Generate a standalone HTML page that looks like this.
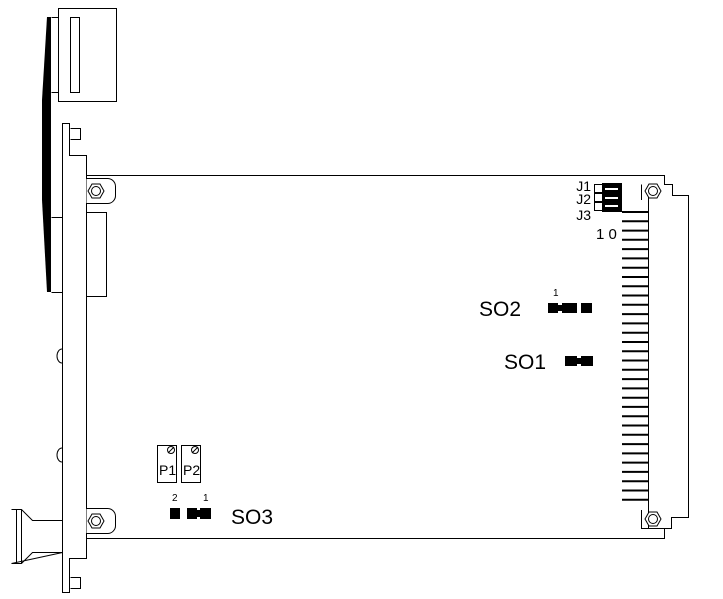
<!DOCTYPE html>
<html><head><style>
html,body{margin:0;padding:0;background:#fff;}
svg{display:block;}
text{font-family:"Liberation Sans",sans-serif;fill:#000;}
</style></head><body>
<svg width="723" height="599" viewBox="0 0 723 599" xmlns="http://www.w3.org/2000/svg">
<defs>
<g id="nut">
<polygon points="-8,0 -4,-7 4,-7 8,0 4,7 -4,7" fill="#fff" stroke="#000" stroke-width="1"/>
<circle r="4.5" fill="none" stroke="#000" stroke-width="1"/>
</g>
</defs>
<g fill="none" stroke="#000" stroke-width="1">
<rect x="58.5" y="8.5" width="58" height="93"/>
<rect x="70.5" y="17.5" width="9" height="75"/>
<path d="M51.5,17.5 H58 M51.5,92.5 H58 M51.5,217.5 H62 M51.5,292.5 H62"/>
</g>
<path d="M51,17 L51,292 L47,292 L42,200 L42,100 L47,17 Z" fill="#000"/>
<path d="M62.5,123.5 H69.5 V155.5 H86.5 V558.5 H69.5 V592.5 H62.5 Z" fill="#fff" stroke="#000"/>
<path d="M70.5,128.5 H80.5 V139.5 H70.5 M70.5,577.5 H80.5 V588.5 H70.5" fill="none" stroke="#000"/>
<path d="M62,349 A5,7 0 0 0 62,363 M62,448 A5,7 0 0 0 62,462" fill="none" stroke="#000"/>
<path d="M86.5,212.5 H106.5 V296.5 H86.5" fill="none" stroke="#000"/>
<path d="M86.5,175.5 H664.5 V184.5 H672.5 V195.5 H688.5 V517.5 H671.5 V528.5 H664.5 V538.5 H86.5" fill="none" stroke="#000"/>
<line x1="648.5" y1="190" x2="648.5" y2="528" stroke="#000"/>
<path d="M641.5,184.5 V200 M641.5,510 V528.5 H664" fill="none" stroke="#000"/>
<g stroke="#000" stroke-width="2">
<line x1="622" y1="212" x2="648" y2="212"/><line x1="622" y1="221.3" x2="648" y2="221.3"/><line x1="622" y1="230.6" x2="648" y2="230.6"/><line x1="622" y1="239.8" x2="648" y2="239.8"/><line x1="622" y1="249.1" x2="648" y2="249.1"/><line x1="622" y1="258.4" x2="648" y2="258.4"/><line x1="622" y1="267.7" x2="648" y2="267.7"/><line x1="622" y1="277" x2="648" y2="277"/><line x1="622" y1="286.3" x2="648" y2="286.3"/><line x1="622" y1="295.5" x2="648" y2="295.5"/><line x1="622" y1="304.8" x2="648" y2="304.8"/><line x1="622" y1="314.1" x2="648" y2="314.1"/><line x1="622" y1="323.4" x2="648" y2="323.4"/><line x1="622" y1="332.7" x2="648" y2="332.7"/><line x1="622" y1="342" x2="648" y2="342"/><line x1="622" y1="351.2" x2="648" y2="351.2"/><line x1="622" y1="360.5" x2="648" y2="360.5"/><line x1="622" y1="369.8" x2="648" y2="369.8"/><line x1="622" y1="379.1" x2="648" y2="379.1"/><line x1="622" y1="388.4" x2="648" y2="388.4"/><line x1="622" y1="397.7" x2="648" y2="397.7"/><line x1="622" y1="406.9" x2="648" y2="406.9"/><line x1="622" y1="416.2" x2="648" y2="416.2"/><line x1="622" y1="425.5" x2="648" y2="425.5"/><line x1="622" y1="434.8" x2="648" y2="434.8"/><line x1="622" y1="444.1" x2="648" y2="444.1"/><line x1="622" y1="453.4" x2="648" y2="453.4"/><line x1="622" y1="462.6" x2="648" y2="462.6"/><line x1="622" y1="471.9" x2="648" y2="471.9"/><line x1="622" y1="481.2" x2="648" y2="481.2"/><line x1="622" y1="490.5" x2="648" y2="490.5"/><line x1="622" y1="499.8" x2="648" y2="499.8"/>
</g>
<path d="M86.5,178.5 H107 A8,8 0 0 1 115.5,186.5 V195 A8,8 0 0 1 107,203.5 H86.5" fill="#fff" stroke="#000"/>
<path d="M86.5,508.5 H107 A8,8 0 0 1 115.5,516.5 V525 A8,8 0 0 1 107,533.5 H86.5" fill="#fff" stroke="#000"/>
<use href="#nut" x="96" y="191"/>
<use href="#nut" x="96" y="521"/>
<use href="#nut" x="653" y="191"/>
<use href="#nut" x="653" y="519"/>
<path d="M11.5,509.5 H21.5 L32.5,520.5 H62.5 M62.5,552.5 H32.5 L21.5,563.5 H11.5 Z M16.5,510 V563 M21.5,509.5 V563.5" fill="none" stroke="#000"/>
<rect x="157.5" y="445.5" width="19" height="37" fill="none" stroke="#000"/>
<rect x="181.5" y="445.5" width="19" height="37" fill="none" stroke="#000"/>
<circle cx="171" cy="450" r="3.5" fill="none" stroke="#000"/><line x1="168" y1="453" x2="174" y2="447" stroke="#000"/>
<circle cx="195" cy="450" r="3.5" fill="none" stroke="#000"/><line x1="192" y1="453" x2="198" y2="447" stroke="#000"/>
<text x="159" y="475" font-size="14">P1</text>
<text x="183" y="475" font-size="14">P2</text>
<rect x="170" y="508" width="10" height="11" fill="#000"/>
<rect x="187" y="508" width="24" height="11" fill="#000"/>
<rect x="197" y="508" width="3" height="2" fill="#fff"/><rect x="197" y="517" width="3" height="2" fill="#fff"/>
<text x="172" y="501" font-size="10">2</text>
<text x="203" y="501" font-size="10">1</text>
<text x="231" y="524" font-size="21">SO3</text>
<rect x="548" y="303" width="29" height="10" fill="#000"/>
<rect x="558" y="303" width="4" height="2" fill="#fff"/><rect x="558" y="311" width="4" height="2" fill="#fff"/>
<rect x="581" y="303" width="11" height="10" fill="#000"/>
<text x="553" y="296" font-size="10">1</text>
<text x="479" y="316" font-size="21">SO2</text>
<rect x="565" y="356" width="28" height="10" fill="#000"/>
<rect x="577" y="356" width="4" height="2" fill="#fff"/><rect x="577" y="364" width="4" height="2" fill="#fff"/>
<text x="504" y="369" font-size="21">SO1</text>
<rect x="594.5" y="184.5" width="8" height="8" fill="none" stroke="#000"/>
<rect x="594.5" y="193.5" width="8" height="8" fill="none" stroke="#000"/>
<rect x="594.5" y="202.5" width="8" height="8" fill="none" stroke="#000"/>
<rect x="602" y="183" width="20" height="29" fill="#000"/>
<g stroke="#fff" stroke-width="2"><line x1="605" y1="189" x2="618" y2="189"/><line x1="605" y1="198" x2="618" y2="198"/><line x1="605" y1="206" x2="618" y2="206"/></g>
<g font-size="14" text-anchor="end"><text x="591" y="191">J1</text><text x="591" y="204">J2</text><text x="591" y="220">J3</text></g>
<text x="596" y="239" font-size="15">1 0</text>
</svg>
</body></html>
